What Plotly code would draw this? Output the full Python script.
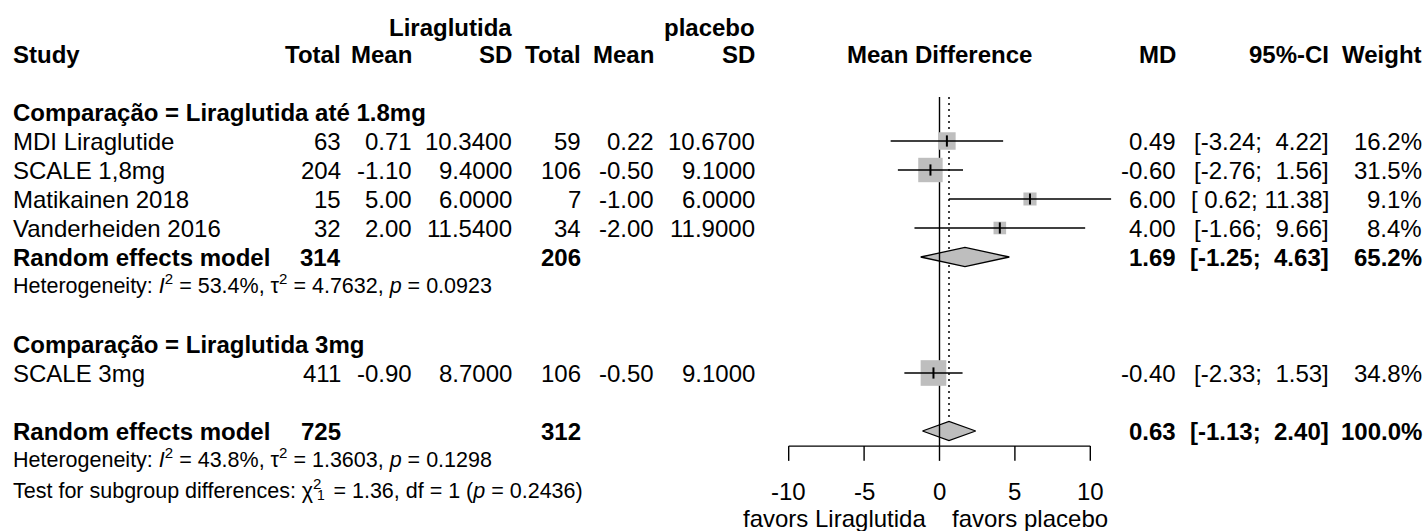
import math
import plotly.graph_objects as go

# ---- study data -------------------------------------------------------
studies = ["MDI Liraglutide", "SCALE 1,8mg", "Matikainen 2018", "Vanderheiden 2016", "SCALE 3mg"]
n_lira = [63, 204, 15, 32, 411]
mean_lira = [0.71, -1.10, 5.00, 2.00, -0.90]
sd_lira = [10.34, 9.40, 6.00, 11.54, 8.70]
n_plac = [59, 106, 7, 34, 106]
mean_plac = [0.22, -0.50, -1.00, -2.00, -0.50]
sd_plac = [10.67, 9.10, 6.00, 11.90, 9.10]
md = [0.49, -0.60, 6.00, 4.00, -0.40]
ci_low = [-3.24, -2.76, 0.62, -1.66, -2.33]
ci_high = [4.22, 1.56, 11.38, 9.66, 1.53]
weight = [16.2, 31.5, 9.1, 8.4, 34.8]

# ---- pooled (random effects) results -----------------------------------
pooled_label = ["Random effects model", "Random effects model"]
pooled_n_lira = [314, 725]
pooled_n_plac = [206, 312]
pooled_md = [1.69, 0.63]
pooled_low = [-1.25, -1.13]
pooled_high = [4.63, 2.40]
pooled_weight = [65.2, 100.0]

subgroups = ["Comparação = Liraglutida até 1.8mg", "Comparação = Liraglutida 3mg"]
heterogeneity = [
    "Heterogeneity: <i>I</i><sup>2</sup> = 53.4%, τ<sup>2</sup> = 4.7632, <i>p</i> = 0.0923",
    "Heterogeneity: <i>I</i><sup>2</sup> = 43.8%, τ<sup>2</sup> = 1.3603, <i>p</i> = 0.1298",
]
subgroup_test = "Test for subgroup differences: χ<sup>2</sup>\u00a0\u00a0= 1.36, df = 1 (<i>p</i> = 0.2436)"
subgroup_test_df = "1"

tick_values = [-10, -5, 0, 5, 10]
tick_labels = ["-10", "-5", "0", "5", "10"]
label_left = "favors Liraglutida"
label_right = "favors placebo"

# ---- layout rows (row units, top to bottom) ----------------------------
study_rows = [1, 2, 3, 4, 9]
pooled_rows = [5, 11]
subgroup_rows = [0, 8]
het_rows = [6, 12]
test_row = 13

W, H = 1427, 531
FONT = "Liberation Sans, Arial, sans-serif"
FS = 24
FS_SMALL = 21.5
GREY = "#bebebe"
NB = "\u00a0"

# forest panel scale: pixel = X0 + SCALE * value
X0, SCALE = 939.5, 15.08
XR = [-12.0, 12.5]
dom = [(X0 + SCALE * XR[0]) / W, (X0 + SCALE * XR[1]) / W]

# vertical scale: pixel = Y0 + ROW * r
Y0, ROW = 112.0, 29.0
YR = [(H - Y0) / ROW, -Y0 / ROW]

fig = go.Figure()


def line(xs, ys, width=1.4, dash=None):
    fig.add_trace(go.Scatter(
        x=xs, y=ys, mode="lines",
        line=dict(color="black", width=width, dash=dash),
        hoverinfo="skip", showlegend=False,
    ))


top_r = -0.52
axis_r = 11.52
tick_r = 12.03
dia_h = 0.33

# dotted line at the overall pooled estimate
line([pooled_md[1]] * 2, [top_r, pooled_rows[1] - dia_h], width=1.5, dash="2px,4px")

# pooled diamonds
for m, lo, hi, r in zip(pooled_md, pooled_low, pooled_high, pooled_rows):
    fig.add_trace(go.Scatter(
        x=[lo, m, hi, m, lo], y=[r, r - dia_h, r, r + dia_h, r],
        mode="lines", fill="toself", fillcolor=GREY,
        line=dict(color="black", width=1.3),
        hoverinfo="skip", showlegend=False,
    ))

# line of no effect
line([0, 0], [top_r, axis_r], width=1.4)

# study squares (area proportional to weight)
fig.add_trace(go.Scatter(
    x=md, y=study_rows, mode="markers",
    marker=dict(symbol="square", color=GREY, opacity=1,
                size=[4.35 * math.sqrt(w) for w in weight],
                line=dict(width=0)),
    hoverinfo="skip", showlegend=False,
))

# confidence intervals
for lo, hi, r in zip(ci_low, ci_high, study_rows):
    line([lo, hi], [r, r], width=1.3)

# point estimate marks
fig.add_trace(go.Scatter(
    x=md, y=study_rows, mode="markers",
    marker=dict(symbol="line-ns", size=8, line=dict(width=2, color="black")),
    hoverinfo="skip", showlegend=False,
))

# x axis with ticks
line([tick_values[0], tick_values[-1]], [axis_r, axis_r], width=1.4)
for t in tick_values:
    line([t, t], [axis_r, tick_r], width=1.4)


# ---- text -------------------------------------------------------------
def txt(x_px, r, s, anchor="right", bold=False, size=FS):
    fig.add_annotation(
        x=x_px / W, xref="paper", y=r, yref="y",
        text=f"<b>{s}</b>" if bold else s,
        showarrow=False, xanchor=anchor, yanchor="middle", borderpad=0,
        font=dict(size=size, family=FONT, color="black"),
    )


def ci_text(lo, hi):
    return f"[{lo:5.2f}; {hi:5.2f}]".replace(" ", NB)


COL_STUDY = 12
COL_NL, COL_ML, COL_SL = 342, 413, 513
COL_NP, COL_MP, COL_SP = 582, 655, 756
COL_MD, COL_CI, COL_W = 1177, 1330, 1423

# headers
txt(COL_SL, -2.9, "Liraglutida", bold=True)
txt(COL_SP, -2.9, "placebo", bold=True)
txt(COL_STUDY, -2, "Study", anchor="left", bold=True)
for x, s in [(COL_NL, "Total"), (COL_ML, "Mean"), (COL_SL, "SD"),
             (COL_NP, "Total"), (COL_MP, "Mean"), (COL_SP, "SD"),
             (COL_MD, "MD"), (COL_CI, "95%-CI"), (COL_W, "Weight")]:
    txt(x, -2, s, bold=True)
txt(X0, -2, "Mean Difference", anchor="center", bold=True)

# subgroup headings
for s, r in zip(subgroups, subgroup_rows):
    txt(COL_STUDY, r, s, anchor="left", bold=True)

# study rows
for i, r in enumerate(study_rows):
    txt(COL_STUDY, r, studies[i], anchor="left")
    txt(COL_NL, r, str(n_lira[i]))
    txt(COL_ML, r, f"{mean_lira[i]:.2f}")
    txt(COL_SL, r, f"{sd_lira[i]:.4f}")
    txt(COL_NP, r, str(n_plac[i]))
    txt(COL_MP, r, f"{mean_plac[i]:.2f}")
    txt(COL_SP, r, f"{sd_plac[i]:.4f}")
    txt(COL_MD, r, f"{md[i]:.2f}")
    txt(COL_CI, r, ci_text(ci_low[i], ci_high[i]))
    txt(COL_W, r, f"{weight[i]:.1f}%")

# pooled rows
for i, r in enumerate(pooled_rows):
    txt(COL_STUDY, r, pooled_label[i], anchor="left", bold=True)
    txt(COL_NL, r, str(pooled_n_lira[i]), bold=True)
    txt(COL_NP, r, str(pooled_n_plac[i]), bold=True)
    txt(COL_MD, r, f"{pooled_md[i]:.2f}", bold=True)
    txt(COL_CI, r, ci_text(pooled_low[i], pooled_high[i]), bold=True)
    txt(COL_W, r, f"{pooled_weight[i]:.1f}%", bold=True)

# heterogeneity statistics
for s, r in zip(heterogeneity, het_rows):
    txt(COL_STUDY, r - 0.08, s, anchor="left", size=FS_SMALL)
txt(COL_STUDY, test_row, subgroup_test, anchor="left", size=FS_SMALL)
txt(316, test_row + 0.2, subgroup_test_df, anchor="left", size=14)

# axis tick labels and direction labels
for t, s in zip(tick_values, tick_labels):
    fig.add_annotation(x=t, xref="x", y=13.1, yref="y", text=s, showarrow=False,
                       xanchor="center", yanchor="middle", borderpad=0,
                       font=dict(size=FS, family=FONT, color="black"))
fig.add_annotation(x=-0.85, xref="x", y=14.0, yref="y", text=label_left, showarrow=False,
                   xanchor="right", yanchor="middle", borderpad=0,
                   font=dict(size=FS, family=FONT, color="black"))
fig.add_annotation(x=0.75, xref="x", y=14.0, yref="y", text=label_right, showarrow=False,
                   xanchor="left", yanchor="middle", borderpad=0,
                   font=dict(size=FS, family=FONT, color="black"))

fig.update_layout(
    width=W, height=H,
    margin=dict(l=0, r=0, t=0, b=0),
    paper_bgcolor="white", plot_bgcolor="rgba(0,0,0,0)",
    showlegend=False,
    xaxis=dict(range=XR, domain=dom, visible=False, fixedrange=True),
    yaxis=dict(range=YR, domain=[0, 1], visible=False, fixedrange=True),
)

fig.write_html("out.html")
